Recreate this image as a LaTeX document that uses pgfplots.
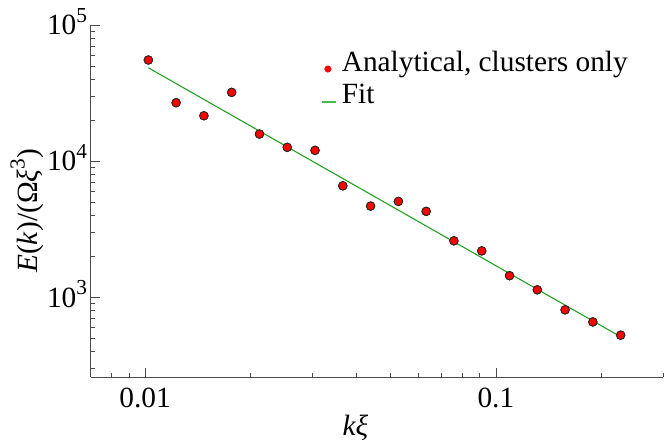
\documentclass[border=0pt]{standalone}
\usepackage{fontspec}
\setmainfont{Liberation Serif}
\usepackage{pgfplots}
\usepackage{pgfplotstable}
\pgfplotsset{compat=1.18}

\definecolor{fitgreen}{RGB}{30,160,30}
\definecolor{legendgreen}{RGB}{70,185,70}
\definecolor{ptred}{RGB}{255,0,0}
\definecolor{axisgray}{RGB}{75,75,75}

% superscript for the decade labels
\newcommand{\sups}[1]{\raisebox{0.42em}{\fontsize{16}{16}\selectfont #1}}
\newcommand{\bigfont}{\fontsize{22}{24}\selectfont}

% energy spectrum from the cluster model
\pgfplotstableread{
x        y
0.010220 55300
0.012264 26850
0.014717 21530
0.017660 31990
0.021192 15800
0.025431 12620
0.030517 11990
0.036620 6580
0.043944 4670
0.052733 5055
0.063280 4270
0.075936 2594
0.091123 2188
0.109348 1439
0.131217 1133
0.157461 807
0.188953 658
0.226743 526
}\clusters

% power-law fit, end points
\pgfplotstableread{
x        y
0.010220 48500
0.226743 512
}\fitline

\begin{document}
\begin{tikzpicture}
\begin{axis}[
  scale only axis,
  width=429.5pt, height=264.2pt,
  xmode=log, ymode=log,
  xmin=0.007, xmax=0.3, ymin=258, ymax=1e5,
  axis lines*=left,
  axis line style={axisgray, line width=0.6pt},
  tick style={axisgray, line width=0.6pt},
  tick align=inside,
  major tick length=7pt, minor tick length=3.5pt,
  xtick={0.01,0.1}, xticklabels={0.01,0.1},
  minor xtick={0.007,0.008,0.009,0.02,0.03,0.04,0.05,0.06,0.07,0.08,0.09,0.2,0.3},
  ytick={1e3,1e4,1e5}, yticklabels={10\sups{3},10\sups{4},10\sups{5}},
  minor ytick={300,400,500,600,700,800,900,2000,3000,4000,5000,6000,7000,8000,9000,
               20000,30000,40000,50000,60000,70000,80000,90000},
  tick label style={font=\bigfont, text=black},
  xticklabel style={anchor=north, inner sep=0pt, yshift=-8pt},
  yticklabel style={anchor=base east, inner sep=0pt, xshift=-2.5pt, yshift=-7.4pt},
  xlabel={\textit{kξ}},
  ylabel={\textit{E}(\textit{k})/(Ω\textit{ξ}\sups{3})},
  every axis x label/.style={at={(axis description cs:0.4625,-0.1439)}, anchor=center, font=\bigfont},
  every axis y label/.style={at={(axis description cs:-0.1113,0.472)}, anchor=center, rotate=90, font=\bigfont},
  legend style={draw=none, fill=none, inner sep=0pt, outer sep=0pt,
    at={(axis description cs:0.4017,0.928)}, anchor=north west,
    font=\bigfont, row sep=0.2pt, /tikz/column sep=3.75pt,
    nodes={inner sep=0pt, text height=16pt, text depth=8pt}},
  legend cell align=left,
  clip=false,
]
\addplot[only marks, mark=*, mark size=3.2pt,
  mark options={fill=ptred, draw=black!85, line width=0.6pt},
  legend image code/.code={\fill[ptred] (4.7pt,-2pt) circle (2.4pt);}]
  table[x=x,y=y]{\clusters};
\addlegendentry{Analytical, clusters only}
\addplot[fitgreen, line width=0.8pt,
  legend image code/.code={\draw[draw=legendgreen, line width=1.4pt] (0pt,-2.3pt) -- (10.7pt,-2.3pt);}]
  table[x=x,y=y]{\fitline};
\addlegendentry{Fit}
% points again, above the fit line
\addplot[only marks, mark=*, mark size=3.2pt, forget plot,
  mark options={fill=ptred, draw=black!85, line width=0.6pt}]
  table[x=x,y=y]{\clusters};
\end{axis}
\pgfresetboundingbox
\path[use as bounding box] ([xshift=-68.0pt,yshift=-52.3pt]current axis.south west) rectangle ++(504pt,335.25pt);
\end{tikzpicture}
\end{document}
